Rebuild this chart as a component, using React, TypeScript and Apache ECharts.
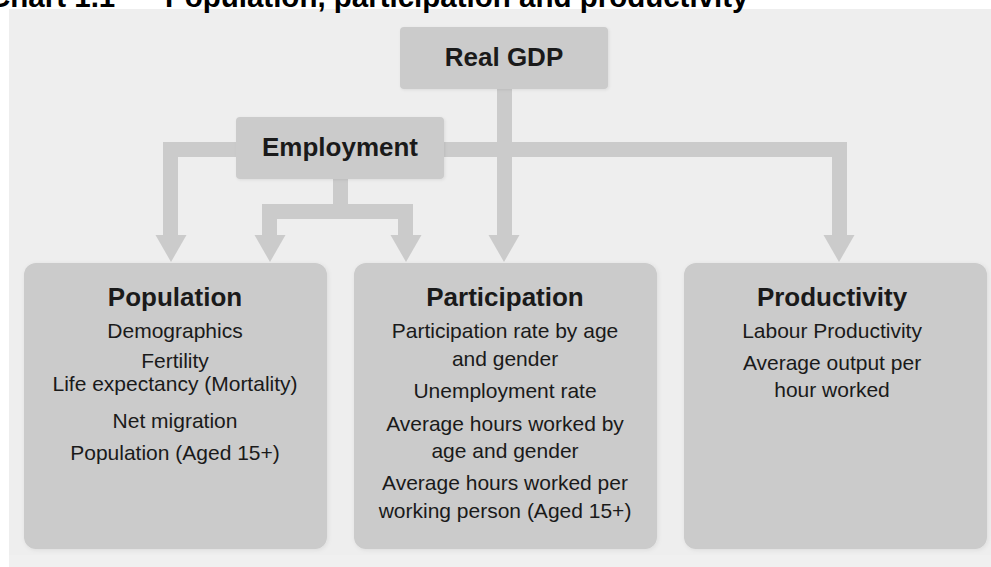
import React, { useEffect, useRef } from "react";
import * as echarts from "echarts";

// ---- Content (texts) ----
const titleNumber = "Chart 1.1";
const titleText = "Population, participation and productivity";
const topNodes = ["Real GDP", "Employment"];
const boxTitles = ["Population", "Participation", "Productivity"];
const populationLines = [
  "Demographics",
  "Fertility",
  "Life expectancy (Mortality)",
  "Net migration",
  "Population (Aged 15+)",
];
const participationLines = [
  "Participation rate by age",
  "and gender",
  "Unemployment rate",
  "Average hours worked by",
  "age and gender",
  "Average hours worked per",
  "working person (Aged 15+)",
];
const productivityLines = [
  "Labour Productivity",
  "Average output per",
  "hour worked",
];

// ---- Layout ----
const FONT = "'Liberation Sans', Arial, Helvetica, sans-serif";
const BOX = "#cbcbcb";
const TXT = "#1a1a1a";

const boxLefts = [24, 354, 684];
const boxTop = 263;
const boxW = 303;
const boxH = 286;
const textCenters = [175, 505, 832];
const lineYs = [
  [330, 360, 383, 420, 452],
  [330, 358, 390, 423, 450, 482, 510],
  [330, 362, 389],
];
const allLines = [populationLines, participationLines, productivityLines];

function arrowHead(cx: number) {
  return {
    type: "polygon",
    shape: { points: [[cx - 15.5, 235], [cx + 15.5, 235], [cx, 262]] },
    style: { fill: BOX },
  };
}
function bar(x: number, y: number, w: number, h: number) {
  return { type: "rect", shape: { x, y, width: w, height: h }, style: { fill: BOX } };
}

export default function App() {
  const ref = useRef<HTMLDivElement>(null);
  useEffect(() => {
    if (!ref.current) return;
    const chart = echarts.init(ref.current, null, { renderer: "svg" });
    const elements: any[] = [];
    // panel
    elements.push({ type: "rect", shape: { x: 9, y: 9, width: 982, height: 558 }, style: { fill: "#eeeeee" } });
    elements.push({ type: "rect", shape: { x: 9, y: 555, width: 982, height: 12 }, style: { fill: "#f0f0f0" } });
    // title (cut off at top)
    elements.push({
      type: "text", x: -11, y: -4,
      style: { text: titleNumber, font: `bold 29.5px ${FONT}`, fill: "#000", verticalAlign: "middle" },
    });
    elements.push({
      type: "text", x: 165, y: -4,
      style: { text: titleText, font: `bold 29.5px ${FONT}`, fill: "#000", verticalAlign: "middle" },
    });
    // connectors
    elements.push(bar(497, 89, 15, 147)); // Real GDP stem
    elements.push(bar(163, 142, 684, 15)); // horizontal main bar
    elements.push(bar(163, 142, 15, 94)); // left down
    elements.push(bar(832, 142, 15, 94)); // right down
    elements.push(bar(333, 179, 15, 40)); // employment stem
    elements.push(bar(262, 204, 151, 15)); // employment branch
    elements.push(bar(262, 204, 15, 32));
    elements.push(bar(398, 204, 15, 32));
    [171, 270, 406, 504, 839].forEach((cx) => elements.push(arrowHead(cx)));
    // top nodes
    const topRects = [
      { x: 400, y: 27, width: 208, height: 62, cx: 504, cy: 57 },
      { x: 236, y: 117, width: 208, height: 62, cx: 340, cy: 147 },
    ];
    topRects.forEach((r, i) => {
      elements.push({
        type: "rect",
        shape: { x: r.x, y: r.y, width: r.width, height: r.height, r: 4 },
        style: { fill: BOX, shadowBlur: 3, shadowColor: "rgba(0,0,0,0.08)", shadowOffsetX: 1, shadowOffsetY: 1 },
      });
      elements.push({
        type: "text", x: r.cx, y: r.cy,
        style: { text: topNodes[i], font: `bold 26px ${FONT}`, fill: TXT, align: "center", verticalAlign: "middle" },
      });
    });
    // lower boxes
    boxLefts.forEach((x, i) => {
      elements.push({
        type: "rect",
        shape: { x, y: boxTop, width: boxW, height: boxH, r: 12 },
        style: { fill: BOX, shadowBlur: 4, shadowColor: "rgba(0,0,0,0.08)", shadowOffsetX: 1, shadowOffsetY: 1 },
      });
      elements.push({
        type: "text", x: textCenters[i], y: 297,
        style: { text: boxTitles[i], font: `bold 26px ${FONT}`, fill: TXT, align: "center", verticalAlign: "middle" },
      });
      allLines[i].forEach((line, j) => {
        elements.push({
          type: "text", x: textCenters[i], y: lineYs[i][j],
          style: { text: line, font: `21px ${FONT}`, fill: TXT, align: "center", verticalAlign: "middle" },
        });
      });
    });
    chart.setOption({ animation: false, graphic: { elements } });
    return () => chart.dispose();
  }, []);
  return (
    <div
      ref={ref}
      style={{ position: "fixed", left: 0, top: 0, width: 991, height: 567, background: "#ffffff" }}
    />
  );
}
